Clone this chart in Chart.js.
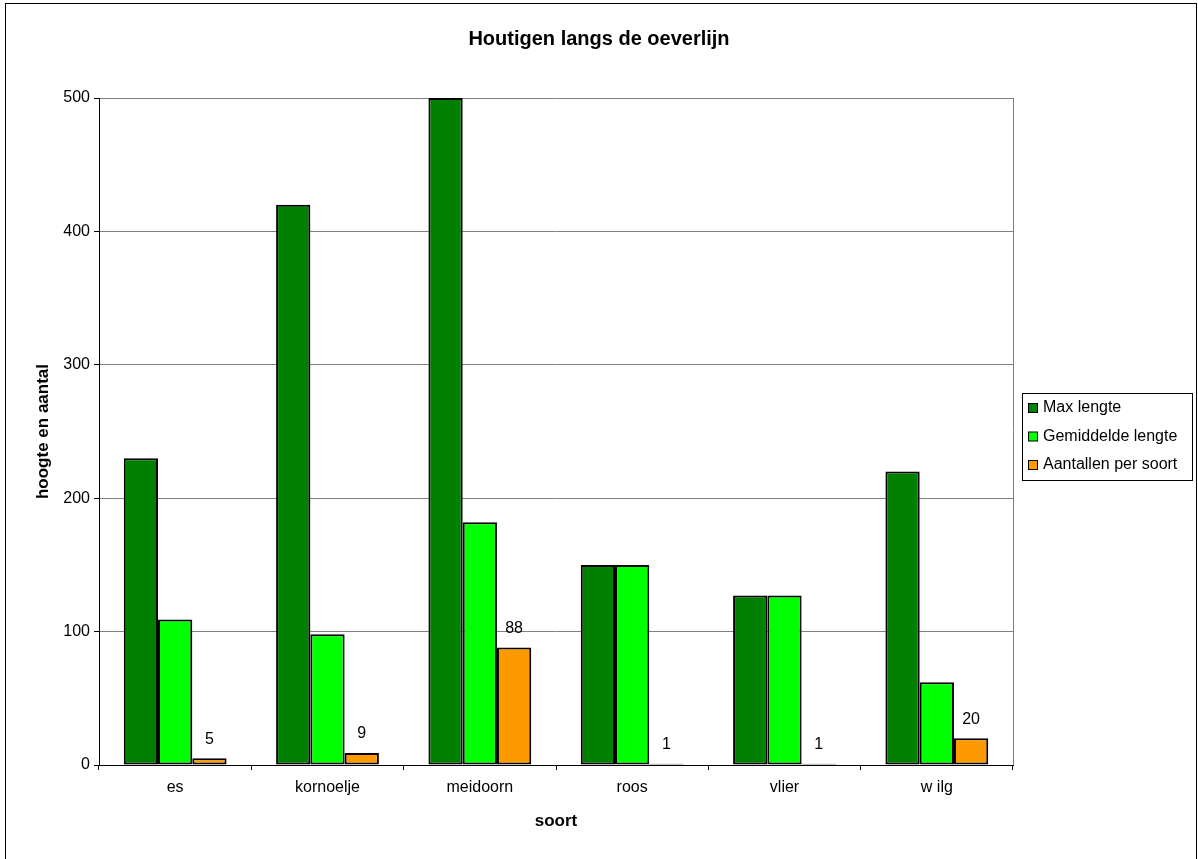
<!DOCTYPE html>
<html>
<head>
<meta charset="utf-8">
<script src="https://cdn.jsdelivr.net/npm/chart.js@4/dist/chart.umd.min.js"></script>
<style>
    body { margin: 0; background: #fff; }
    #wrap { width: 1198px; height: 859px; }
</style>
</head>
<body>
<div id="wrap">
    <canvas id="houtCanvas" width="1198" height="859"></canvas>
</div>
<script>
// data
const soorten = ["es", "kornoelje", "meidoorn", "roos", "vlier", "w ilg"];
const maxLengte = [230, 420, 500, 150, 127, 220];
const gemLengte = [109, 98, 182, 150, 127, 62];
const aantallen = [5, 9, 88, 1, 1, 20];
const yTicks = [0, 100, 200, 300, 400, 500];

const font = "'Liberation Sans', Arial, sans-serif";

// frame round the whole chart + gray right edge of plot
const framePlugin = {
    id: "frame",
    afterDraw(chart) {
        const ctx = chart.ctx;
        const a = chart.chartArea;
        ctx.save();
        ctx.strokeStyle = "#808080";
        ctx.lineWidth = 1;
        ctx.beginPath();
        ctx.moveTo(a.right + 0.5, a.top);
        ctx.lineTo(a.right + 0.5, a.bottom);
        ctx.stroke();
        ctx.strokeStyle = "#000";
        ctx.strokeRect(5.5, 3.5, 1191, 856);
        ctx.restore();
    }
};

// numbers above the orange bars
const labelPlugin = {
    id: "barLabels",
    afterDatasetsDraw(chart) {
        const ctx = chart.ctx;
        const meta = chart.getDatasetMeta(2);
        ctx.save();
        ctx.fillStyle = "#000";
        ctx.font = "16px " + font;
        ctx.textAlign = "center";
        ctx.textBaseline = "middle";
        meta.data.forEach((bar, i) => {
            ctx.fillText(String(aantallen[i]), bar.x, bar.y - 19);
        });
        ctx.restore();
    }
};

// boxed legend in the space kept free on the right
const legendPlugin = {
    id: "boxLegend",
    afterDraw(chart) {
        const ctx = chart.ctx;
        const x = chart.chartArea.right + 9;
        const y = 393;
        ctx.save();
        ctx.strokeStyle = "#000";
        ctx.lineWidth = 1;
        ctx.strokeRect(x + 0.5, y + 0.5, 170, 87);
        ctx.font = "16px " + font;
        ctx.textBaseline = "middle";
        chart.data.datasets.forEach((ds, i) => {
            const cy = y + 15 + i * 28.5;
            ctx.fillStyle = ds.backgroundColor;
            ctx.fillRect(x + 6.5, cy - 4.5, 9, 9);
            ctx.strokeRect(x + 6.5, cy - 4.5, 9, 9);
            ctx.fillStyle = "#000";
            ctx.fillText(ds.label, x + 21, cy);
        });
        ctx.restore();
    }
};

new Chart(document.querySelector("#houtCanvas"), {
    type: "bar",
    data: {
        labels: soorten,
        datasets: [
            { label: "Max lengte", data: maxLengte, backgroundColor: "#008000" },
            { label: "Gemiddelde lengte", data: gemLengte, backgroundColor: "#00ff00" },
            { label: "Aantallen per soort", data: aantallen, backgroundColor: "#ff9900" }
        ].map(d => Object.assign(d, {
            borderColor: "#000",
            borderWidth: 2,
            borderSkipped: false,
            categoryPercentage: 0.675,
            barPercentage: 1.0
        }))
    },
    options: {
        responsive: false,
        animation: false,
        layout: { padding: { left: 5, right: 5, top: 4, bottom: 4 } },
        plugins: {
            legend: { display: false },
            tooltip: { enabled: false },
            title: {
                display: true,
                text: "Houtigen langs de oeverlijn",
                color: "#000",
                font: { family: font, size: 20, weight: "bold" },
                padding: { top: 23, bottom: 47 }
            }
        },
        scales: {
            x: {
                grid: {
                    offset: true,
                    drawOnChartArea: false,
                    tickLength: 5,
                    tickColor: "#000"
                },
                border: { color: "#000" },
                ticks: {
                    color: "#000",
                    padding: 8,
                    font: { family: font, size: 16 }
                },
                title: {
                    display: true,
                    text: "soort",
                    color: "#000",
                    font: { family: font, size: 17, weight: "bold" },
                    padding: { top: 0, bottom: 23 }
                },
                afterFit: s => { s.height = 90; }
            },
            y: {
                min: 0,
                max: 500,
                afterBuildTicks: s => { s.ticks = yTicks.map(v => ({ value: v })); },
                grid: {
                    color: "#808080",
                    tickLength: 5,
                    tickColor: "#000"
                },
                border: { color: "#000" },
                ticks: {
                    color: "#000",
                    padding: 4,
                    font: { family: font, size: 16 }
                },
                title: {
                    display: true,
                    text: "hoogte en aantal",
                    color: "#000",
                    font: { family: font, size: 17, weight: "bold" },
                    padding: { top: 28, bottom: 0 }
                },
                afterFit: s => { s.width = 94; }
            },
            y2: {
                position: "right",
                display: true,
                grid: { display: false },
                border: { display: false },
                ticks: { display: false },
                afterFit: s => { s.width = 180; }
            }
        }
    },
    plugins: [framePlugin, labelPlugin, legendPlugin]
});
</script>
</body>
</html>
